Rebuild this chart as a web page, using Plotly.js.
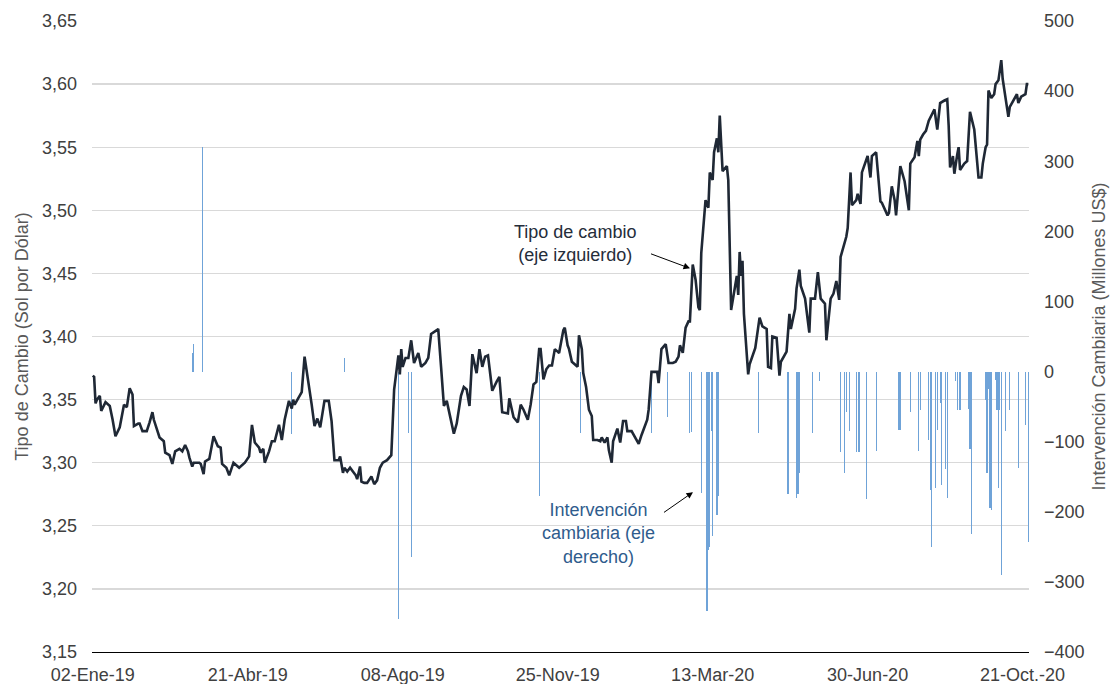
<!DOCTYPE html>
<html>
<head>
<meta charset="utf-8">
<script src="https://cdn.plot.ly/plotly-3.0.1.min.js"></script>
<style>html,body{margin:0;padding:0;background:#fff;}#chart{width:1118px;height:684px;}</style>
</head>
<body>
<div id="chart"></div>
<script>
// Tipo de cambio (Sol por Dólar) - eje izquierdo
const tcDates = ["2019-01-02","2019-01-03","2019-01-04","2019-01-05","2019-01-07","2019-01-08","2019-01-11","2019-01-14","2019-01-16","2019-01-18","2019-01-21","2019-01-24","2019-01-26","2019-01-28","2019-01-30","2019-01-31","2019-02-03","2019-02-04","2019-02-06","2019-02-09","2019-02-11","2019-02-13","2019-02-14","2019-02-16","2019-02-18","2019-02-21","2019-02-22","2019-02-25","2019-02-27","2019-03-01","2019-03-04","2019-03-06","2019-03-08","2019-03-10","2019-03-11","2019-03-13","2019-03-14","2019-03-18","2019-03-19","2019-03-21","2019-03-22","2019-03-25","2019-03-28","2019-03-31","2019-04-02","2019-04-03","2019-04-06","2019-04-08","2019-04-11","2019-04-15","2019-04-19","2019-04-22","2019-04-24","2019-04-26","2019-04-29","2019-04-30","2019-05-02","2019-05-03","2019-05-06","2019-05-08","2019-05-10","2019-05-13","2019-05-15","2019-05-17","2019-05-20","2019-05-22","2019-05-23","2019-05-24","2019-05-29","2019-05-31","2019-06-03","2019-06-05","2019-06-07","2019-06-09","2019-06-11","2019-06-12","2019-06-14","2019-06-17","2019-06-19","2019-06-21","2019-06-24","2019-06-25","2019-06-27","2019-06-28","2019-06-30","2019-07-02","2019-07-04","2019-07-06","2019-07-07","2019-07-09","2019-07-10","2019-07-12","2019-07-14","2019-07-17","2019-07-19","2019-07-21","2019-07-23","2019-07-25","2019-07-28","2019-07-31","2019-08-02","2019-08-04","2019-08-05","2019-08-06","2019-08-07","2019-08-08","2019-08-10","2019-08-12","2019-08-14","2019-08-16","2019-08-19","2019-08-21","2019-08-24","2019-08-26","2019-08-28","2019-09-01","2019-09-02","2019-09-04","2019-09-06","2019-09-08","2019-09-10","2019-09-13","2019-09-15","2019-09-18","2019-09-20","2019-09-22","2019-09-24","2019-09-26","2019-09-29","2019-10-01","2019-10-03","2019-10-05","2019-10-07","2019-10-08","2019-10-10","2019-10-13","2019-10-15","2019-10-17","2019-10-21","2019-10-22","2019-10-23","2019-10-25","2019-10-28","2019-10-30","2019-11-01","2019-11-04","2019-11-06","2019-11-08","2019-11-10","2019-11-12","2019-11-13","2019-11-15","2019-11-17","2019-11-19","2019-11-21","2019-11-23","2019-11-25","2019-11-26","2019-11-29","2019-11-30","2019-12-02","2019-12-03","2019-12-05","2019-12-07","2019-12-09","2019-12-10","2019-12-12","2019-12-13","2019-12-15","2019-12-17","2019-12-19","2019-12-20","2019-12-23","2019-12-25","2019-12-26","2019-12-28","2019-12-30","2019-12-31","2020-01-02","2020-01-03","2020-01-06","2020-01-08","2020-01-10","2020-01-12","2020-01-13","2020-01-16","2020-01-18","2020-01-21","2020-01-23","2020-01-27","2020-01-28","2020-01-30","2020-02-01","2020-02-03","2020-02-04","2020-02-06","2020-02-09","2020-02-11","2020-02-14","2020-02-16","2020-02-18","2020-02-19","2020-02-21","2020-02-23","2020-02-25","2020-02-26","2020-02-28","2020-03-01","2020-03-03","2020-03-04","2020-03-05","2020-03-06","2020-03-08","2020-03-10","2020-03-11","2020-03-13","2020-03-14","2020-03-16","2020-03-17","2020-03-18","2020-03-19","2020-03-20","2020-03-23","2020-03-24","2020-03-26","2020-03-28","2020-03-30","2020-03-31","2020-04-01","2020-04-02","2020-04-03","2020-04-04","2020-04-07","2020-04-08","2020-04-12","2020-04-15","2020-04-17","2020-04-20","2020-04-21","2020-04-23","2020-04-24","2020-04-27","2020-04-29","2020-04-30","2020-05-04","2020-05-06","2020-05-07","2020-05-10","2020-05-11","2020-05-13","2020-05-14","2020-05-17","2020-05-20","2020-05-21","2020-05-24","2020-05-26","2020-05-28","2020-05-31","2020-06-01","2020-06-04","2020-06-06","2020-06-08","2020-06-10","2020-06-11","2020-06-15","2020-06-16","2020-06-17","2020-06-18","2020-06-19","2020-06-22","2020-06-23","2020-06-25","2020-06-26","2020-06-29","2020-06-30","2020-07-02","2020-07-03","2020-07-06","2020-07-09","2020-07-10","2020-07-12","2020-07-14","2020-07-15","2020-07-17","2020-07-19","2020-07-20","2020-07-23","2020-07-26","2020-07-29","2020-07-30","2020-08-02","2020-08-04","2020-08-05","2020-08-06","2020-08-08","2020-08-10","2020-08-12","2020-08-14","2020-08-16","2020-08-18","2020-08-20","2020-08-23","2020-08-25","2020-08-26","2020-08-27","2020-08-29","2020-08-30","2020-09-01","2020-09-02","2020-09-03","2020-09-06","2020-09-08","2020-09-10","2020-09-13","2020-09-15","2020-09-16","2020-09-18","2020-09-19","2020-09-21","2020-09-22","2020-09-23","2020-09-25","2020-09-27","2020-09-28","2020-09-30","2020-10-02","2020-10-03","2020-10-05","2020-10-07","2020-10-08","2020-10-10","2020-10-13","2020-10-14","2020-10-16","2020-10-19","2020-10-20","2020-10-21"];
const tcValues = [3.369,3.368,3.347,3.350,3.353,3.341,3.348,3.345,3.334,3.321,3.328,3.346,3.344,3.359,3.354,3.329,3.331,3.331,3.325,3.325,3.332,3.340,3.334,3.326,3.320,3.317,3.308,3.306,3.299,3.309,3.311,3.309,3.314,3.309,3.304,3.297,3.300,3.300,3.299,3.291,3.301,3.303,3.321,3.313,3.312,3.299,3.296,3.290,3.300,3.296,3.300,3.305,3.330,3.316,3.312,3.308,3.311,3.300,3.309,3.317,3.317,3.330,3.318,3.334,3.349,3.343,3.350,3.346,3.356,3.384,3.363,3.346,3.329,3.335,3.328,3.334,3.349,3.349,3.333,3.302,3.302,3.305,3.292,3.296,3.293,3.296,3.293,3.290,3.287,3.297,3.285,3.284,3.284,3.289,3.283,3.286,3.296,3.300,3.302,3.306,3.358,3.379,3.385,3.370,3.390,3.376,3.383,3.383,3.397,3.379,3.387,3.376,3.379,3.383,3.402,3.405,3.406,3.376,3.345,3.349,3.339,3.323,3.331,3.353,3.360,3.358,3.345,3.386,3.371,3.390,3.376,3.384,3.385,3.375,3.357,3.364,3.368,3.340,3.339,3.351,3.346,3.336,3.332,3.346,3.342,3.334,3.346,3.362,3.364,3.390,3.390,3.366,3.374,3.377,3.377,3.390,3.388,3.387,3.405,3.407,3.393,3.390,3.380,3.378,3.376,3.401,3.390,3.371,3.360,3.342,3.337,3.318,3.318,3.317,3.320,3.316,3.320,3.310,3.300,3.317,3.327,3.316,3.333,3.333,3.325,3.325,3.321,3.315,3.322,3.334,3.342,3.372,3.372,3.372,3.363,3.390,3.394,3.379,3.379,3.380,3.384,3.393,3.387,3.407,3.412,3.412,3.457,3.445,3.423,3.421,3.466,3.481,3.508,3.502,3.530,3.524,3.546,3.557,3.546,3.575,3.557,3.531,3.535,3.524,3.421,3.434,3.448,3.433,3.467,3.448,3.460,3.418,3.370,3.378,3.391,3.415,3.408,3.406,3.376,3.375,3.400,3.399,3.369,3.380,3.388,3.418,3.406,3.422,3.438,3.453,3.440,3.430,3.403,3.430,3.430,3.451,3.430,3.426,3.397,3.430,3.434,3.444,3.429,3.463,3.479,3.486,3.504,3.530,3.504,3.508,3.513,3.505,3.530,3.541,3.543,3.526,3.543,3.546,3.507,3.506,3.501,3.496,3.498,3.519,3.508,3.496,3.535,3.523,3.500,3.537,3.542,3.555,3.543,3.556,3.560,3.563,3.571,3.575,3.580,3.564,3.585,3.587,3.588,3.567,3.534,3.543,3.529,3.544,3.550,3.532,3.537,3.539,3.578,3.564,3.540,3.526,3.526,3.537,3.550,3.552,3.595,3.589,3.592,3.600,3.603,3.619,3.604,3.590,3.574,3.582,3.586,3.592,3.585,3.590,3.592,3.600,3.600];

// Intervención cambiaria (Millones US$) - eje derecho
const intDates = ["2019-03-13","2019-03-14","2019-03-20","2019-05-22","2019-06-28","2019-08-05","2019-08-12","2019-08-14","2019-11-12","2019-12-11","2020-01-30","2020-02-10","2020-02-26","2020-02-27","2020-03-05","2020-03-09","2020-03-10","2020-03-11","2020-03-12","2020-03-13","2020-03-16","2020-03-17","2020-04-14","2020-05-05","2020-05-11","2020-05-12","2020-05-13","2020-05-22","2020-05-27","2020-06-11","2020-06-14","2020-06-15","2020-06-17","2020-06-22","2020-06-24","2020-06-29","2020-07-06","2020-07-22","2020-07-23","2020-07-30","2020-08-05","2020-08-06","2020-08-12","2020-08-13","2020-08-14","2020-08-17","2020-08-18","2020-08-20","2020-08-21","2020-08-24","2020-08-25","2020-08-31","2020-09-01","2020-09-03","2020-09-09","2020-09-10","2020-09-11","2020-09-21","2020-09-22","2020-09-23","2020-09-24","2020-09-25","2020-09-28","2020-09-29","2020-09-30","2020-10-01","2020-10-02","2020-10-05","2020-10-08","2020-10-14","2020-10-19","2020-10-21"];
const intValues = [26,39,320,-89,20,-353,-88,-265,-177,-88,-88,-65,-87,-86,-173,-342,-254,-250,-85,-235,-205,-178,-88,-175,-181,-175,-144,-87,-14,-115,-144,-57,-85,-115,-115,-182,-113,-84,-84,-57,-113,-55,-97,-169,-250,-166,-83,-45,-162,-139,-181,-14,-55,-55,-53,-111,-232,-40,-145,-25,-195,-198,-12,-55,-166,-55,-290,-85,-55,-138,-76,-243];

// Etiquetas del eje X
const tickDates = ["2019-01-02","2019-04-21","2019-08-08","2019-11-25","2020-03-13","2020-06-30","2020-10-17"];
const tickLabels = ["02-Ene-19","21-Abr-19","08-Ago-19","25-Nov-19","13-Mar-20","30-Jun-20","21-Oct.-20"];

const FONT = "Liberation Sans, Arial, Helvetica, sans-serif";
const DAY = 86400000;

const traces = [
  {
    type: "bar",
    x: intDates,
    y: intValues,
    yaxis: "y",
    width: DAY * 0.85,
    marker: { color: "#6FA3D8", line: { width: 0 } },
    showlegend: false
  },
  {
    type: "scatter",
    mode: "lines",
    x: tcDates,
    y: tcValues,
    yaxis: "y2",
    line: { color: "#1F2835", width: 2.6 },
    showlegend: false
  }
];

const layout = {
  width: 1118,
  height: 684,
  margin: { l: 92, r: 89, t: 21, b: 32 },
  paper_bgcolor: "#ffffff",
  plot_bgcolor: "#ffffff",
  separators: ",.",
  font: { family: FONT, size: 18, color: "#404040" },
  showlegend: false,
  bargap: 0,
  xaxis: {
    type: "date",
    range: ["2019-01-01 12:00", "2020-10-21 12:00"],
    tickmode: "array",
    tickvals: tickDates,
    ticktext: tickLabels,
    tickfont: { family: FONT, size: 18, color: "#404040" },
    ticklabelstandoff: 6,
    showgrid: false,
    zeroline: false,
    showline: true,
    linecolor: "#000000",
    linewidth: 1,
    ticks: ""
  },
  yaxis: {
    side: "right",
    range: [-400, 500],
    dtick: 100,
    tick0: 0,
    showgrid: false,
    zeroline: false,
    showline: false,
    ticks: "",
    ticklabelstandoff: 14,
    tickfont: { family: FONT, size: 18, color: "#404040" },
    title: { text: "Intervención Cambiaria (Millones US$)", font: { family: FONT, size: 18, color: "#595959" }, standoff: 8 }
  },
  yaxis2: {
    overlaying: "y",
    side: "left",
    range: [3.15, 3.65],
    dtick: 0.05,
    tick0: 3.15,
    tickformat: ".2f",
    showgrid: true,
    gridcolor: "#D9D9D9",
    gridwidth: 1.3,
    zeroline: false,
    showline: false,
    ticks: "",
    ticklabelstandoff: 14,
    tickfont: { family: FONT, size: 18, color: "#404040" },
    title: { text: "Tipo de Cambio (Sol por Dólar)", font: { family: FONT, size: 18, color: "#595959" }, standoff: 8 }
  },
  annotations: [
    {
      xref: "paper", yref: "paper", x: 0.5155, y: 0.6475,
      xanchor: "center", yanchor: "middle",
      text: "Tipo de cambio<br>(eje izquierdo)",
      showarrow: false, align: "center",
      font: { family: FONT, size: 18, color: "#252D3A" }
    },
    {
      xref: "paper", yref: "paper", x: 0.6382, y: 0.608,
      text: " ", showarrow: true, arrowhead: 2, arrowsize: 1.3, arrowwidth: 1,
      arrowcolor: "#000000", ax: -43, ay: -16, standoff: 0
    },
    {
      xref: "paper", yref: "paper", x: 0.5409, y: 0.1873,
      xanchor: "center", yanchor: "middle",
      text: "Intervención<br>cambiaria (eje<br>derecho)",
      showarrow: false, align: "center",
      font: { family: FONT, size: 18, color: "#2F5C8D" }
    },
    {
      xref: "paper", yref: "paper", x: 0.6414, y: 0.2533,
      text: " ", showarrow: true, arrowhead: 2, arrowsize: 1.3, arrowwidth: 1,
      arrowcolor: "#000000", ax: -33, ay: 23, standoff: 0
    }
  ]
};

Plotly.newPlot("chart", traces, layout, { staticPlot: true, displayModeBar: false });
</script>
</body>
</html>
